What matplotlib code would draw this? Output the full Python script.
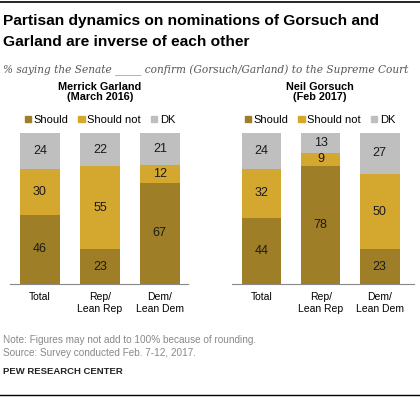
import matplotlib.pyplot as plt
from matplotlib.patches import Patch

plt.rcParams['font.family'] = ['Liberation Sans', 'DejaVu Sans']

# Data (percent)
categories = ['Total', 'Rep/\nLean Rep', 'Dem/\nLean Dem']
series = ['Should', 'Should not', 'DK']
garland_should = [46, 23, 67]
garland_not = [30, 55, 12]
garland_dk = [24, 22, 21]
gorsuch_should = [44, 78, 23]
gorsuch_not = [32, 9, 50]
gorsuch_dk = [24, 13, 27]

colors = ['#9e7f27', '#d4a82f', '#bfbfbf']

W, H = 420, 398
fig = plt.figure(figsize=(W / 100, H / 100), dpi=100)


def px_axes(x0, y0, x1, y1):
    # pixel box (top-left origin) -> figure axes
    return fig.add_axes([x0 / W, 1 - y1 / H, (x1 - x0) / W, (y1 - y0) / H])


def panel(ax, vals, title, xlim, cx):
    bottom = [0, 0, 0]
    for v, c in zip(vals, colors):
        ax.bar(range(3), v, bottom=bottom, width=0.67, color=c)
        for i in range(3):
            ax.text(i, bottom[i] + v[i] / 2, str(v[i]), ha='center', va='center',
                    fontsize=9, color='#1a1a1a')
        bottom = [b + x for b, x in zip(bottom, v)]
    ax.set_xlim(*xlim)
    ax.set_ylim(0, 100)
    for s in ['top', 'right', 'left']:
        ax.spines[s].set_visible(False)
    ax.spines['bottom'].set_color('#888888')
    ax.spines['bottom'].set_linewidth(0.8)
    ax.set_yticks([])
    ax.set_xticks(range(3))
    ax.set_xticklabels(categories, fontsize=7.5, linespacing=1.15)
    ax.tick_params(axis='x', length=0, pad=6)
    fig.text(cx / W, 1 - 92 / H, title, ha='center', va='center', fontsize=7.8,
             fontweight='bold', linespacing=1.05)
    handles = [Patch(color=c) for c in colors]
    ax.legend(handles, series, loc='center', bbox_to_anchor=(cx / W, 1 - 120 / H),
              bbox_transform=fig.transFigure, ncol=3, frameon=False, fontsize=8,
              handlelength=0.55, handleheight=0.55, handletextpad=0.25,
              columnspacing=0.9, borderpad=0, borderaxespad=0)


ax1 = px_axes(10, 133, 188, 284)
panel(ax1, [garland_should, garland_not, garland_dk], 'Merrick Garland\n(March 2016)',
      (-0.5, 2.47), 100)
ax2 = px_axes(232, 133, 414, 284)
panel(ax2, [gorsuch_should, gorsuch_not, gorsuch_dk], 'Neil Gorsuch\n(Feb 2017)',
      (-0.5, 2.58), 320)

# Header and footer
fig.add_artist(plt.Line2D([0, 1], [1 - 1.5 / H] * 2, color='black', lw=1.2))
fig.add_artist(plt.Line2D([0, 1], [1 - 395 / H] * 2, color='black', lw=1.0))
fig.text(3 / W, 1 - 21 / H, 'Partisan dynamics on nominations of Gorsuch and',
         fontsize=11.15, fontweight='bold', va='center')
fig.text(3 / W, 1 - 42 / H, 'Garland are inverse of each other',
         fontsize=11.15, fontweight='bold', va='center')
fig.text(3 / W, 1 - 70 / H,
         '% saying the Senate _____ confirm (Gorsuch/Garland) to the Supreme Court',
         fontsize=7.6, style='italic', family='DejaVu Serif', color='#555555', va='center')
fig.text(3 / W, 1 - 340 / H, 'Note: Figures may not add to 100% because of rounding.',
         fontsize=7.2, color='#888888', va='center')
fig.text(3 / W, 1 - 353 / H, 'Source: Survey conducted Feb. 7-12, 2017.',
         fontsize=7.2, color='#888888', va='center')
fig.text(3 / W, 1 - 372 / H, 'PEW RESEARCH CENTER', fontsize=6.8, fontweight='bold',
         color='#222222', va='center')

fig.savefig('out.png', dpi=100)
